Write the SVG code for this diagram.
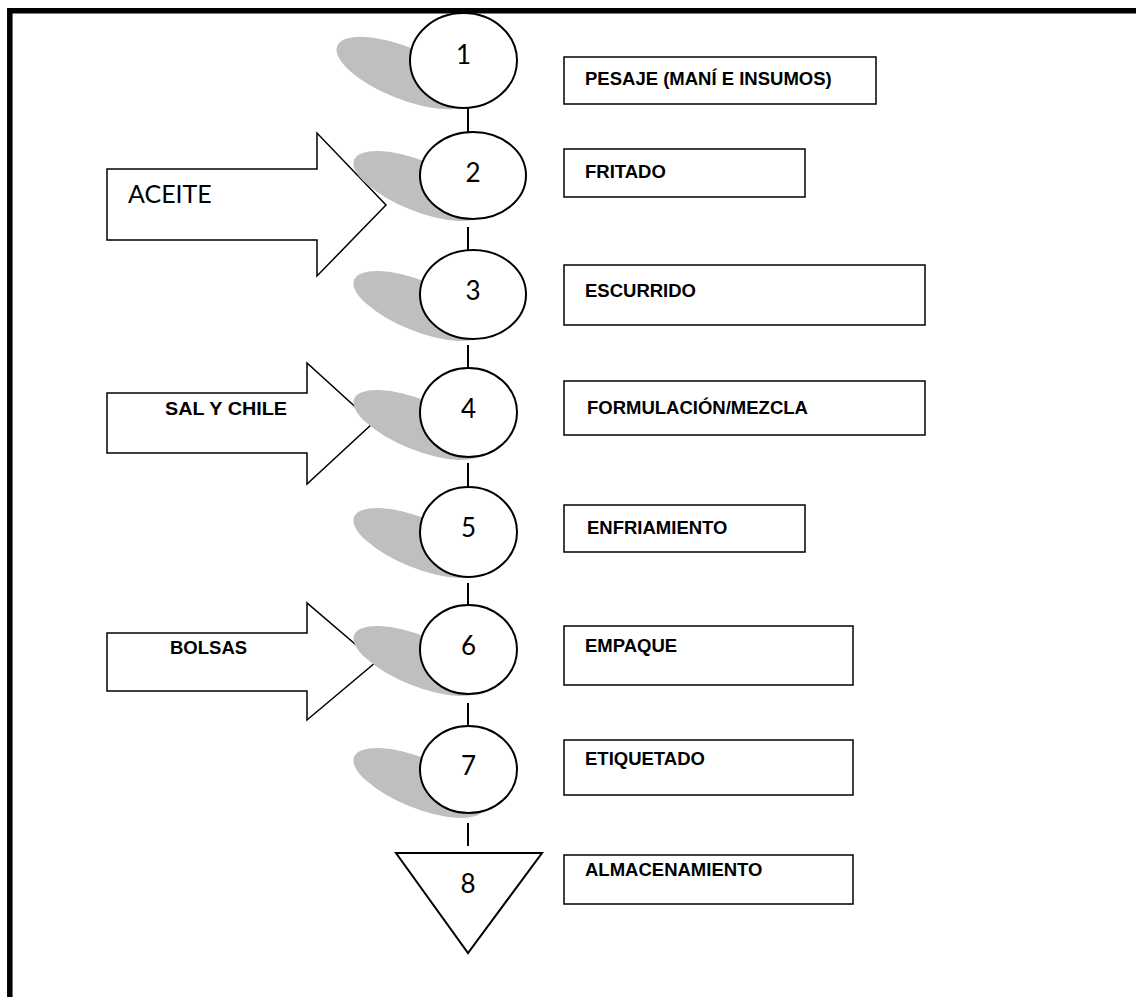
<svg xmlns="http://www.w3.org/2000/svg" width="1136" height="997" viewBox="0 0 1136 997">
<style>
.bg{fill:#fff}
.frame{fill:none;stroke:#000;stroke-width:5.5}
.sh{fill:#bfbfbf;stroke:none}
.op{fill:#fff;stroke:#000;stroke-width:2}
.num{font-family:Lato,"Open Sans",sans-serif;font-size:26px;fill:#000;text-anchor:middle}
.box{fill:#fff;stroke:#000;stroke-width:1.5}
.lbl{font-family:"Liberation Sans",Arial,sans-serif;font-weight:bold;font-size:18.5px;fill:#000}
.albl{font-family:"Liberation Sans",Arial,sans-serif;font-weight:bold;font-size:18.5px;fill:#000}
.arr{fill:#fff;stroke:#000;stroke-width:1.5}
.con{stroke:#000;stroke-width:2;fill:none}
</style>
<rect class="bg" x="0" y="0" width="1136" height="997"/>
<path class="frame" d="M9.8,997 V10.8 H1136"/>
<g id="connectors">
<line class="con" x1="468" y1="108" x2="468" y2="132"/>
<line class="con" x1="468" y1="227" x2="468" y2="250"/>
<line class="con" x1="468" y1="345" x2="468" y2="368"/>
<line class="con" x1="468" y1="463" x2="468" y2="487"/>
<line class="con" x1="468" y1="583" x2="468" y2="605"/>
<line class="con" x1="468" y1="703" x2="468" y2="726"/>
<line class="con" x1="468" y1="823" x2="468" y2="846"/>
</g>
<g id="in-aceite">
<polygon class="arr" points="107,169 317,169 317,133 386,205 317,276 317,240 107,240"/>
<text x="128" y="203" style="font-family:Lato,'Open Sans',sans-serif;font-size:25px">ACEITE</text>
</g>
<g id="in-sal">
<polygon class="arr" points="107,393 307,393 307,363 373,423 307,484 307,453 107,453"/>
<text class="albl" x="165" y="415" textLength="122" lengthAdjust="spacingAndGlyphs">SAL Y CHILE</text>
</g>
<g id="in-bolsas">
<polygon class="arr" points="107,633 307,633 307,603 376,662 307,720 307,691 107,691"/>
<text class="albl" x="170" y="654">BOLSAS</text>
</g>
<g id="n1">
<ellipse class="sh" cx="404" cy="73" rx="72" ry="26" transform="rotate(22 404 73)"/>
<ellipse class="op" cx="463.5" cy="60.5" rx="53.5" ry="47.5"/>
<text class="num" x="463.5" y="64">1</text>
</g>
<g id="n2">
<ellipse class="sh" cx="419" cy="186" rx="70" ry="25" transform="rotate(22 419 186)"/>
<ellipse class="op" cx="473" cy="175.5" rx="53" ry="43.5"/>
<text class="num" x="473" y="182">2</text>
</g>
<g id="n3">
<ellipse class="sh" cx="419" cy="306" rx="70" ry="25" transform="rotate(22 419 306)"/>
<ellipse class="op" cx="473" cy="294.5" rx="53" ry="44.5"/>
<text class="num" x="473" y="300">3</text>
</g>
<g id="n4">
<ellipse class="sh" cx="419" cy="425" rx="70" ry="25" transform="rotate(22 419 425)"/>
<ellipse class="op" cx="468.5" cy="412.5" rx="48.5" ry="44.5"/>
<text class="num" x="468.5" y="418">4</text>
</g>
<g id="n5">
<ellipse class="sh" cx="419" cy="543" rx="70" ry="25" transform="rotate(22 419 543)"/>
<ellipse class="op" cx="468.5" cy="532" rx="48.5" ry="45"/>
<text class="num" x="468.5" y="537">5</text>
</g>
<g id="n6">
<ellipse class="sh" cx="419" cy="661" rx="70" ry="25" transform="rotate(22 419 661)"/>
<ellipse class="op" cx="468.5" cy="649.5" rx="48.5" ry="44.5"/>
<text class="num" x="468.5" y="655">6</text>
</g>
<g id="n7">
<ellipse class="sh" cx="419" cy="783" rx="70" ry="25" transform="rotate(22 419 783)"/>
<ellipse class="op" cx="468.5" cy="769.5" rx="48.5" ry="43.5"/>
<text class="num" x="468.5" y="775">7</text>
</g>
<g id="n8">
<polygon class="op" points="396,853 542,853 468,953"/>
<text class="num" x="468" y="893">8</text>
</g>
<g id="b1"><rect class="box" x="564" y="57" width="312" height="47"/><text class="lbl" x="585" y="85">PESAJE (MANÍ E INSUMOS)</text></g>
<g id="b2"><rect class="box" x="564" y="149" width="241" height="48"/><text class="lbl" x="585" y="178">FRITADO</text></g>
<g id="b3"><rect class="box" x="564" y="265" width="361" height="60"/><text class="lbl" x="585" y="297">ESCURRIDO</text></g>
<g id="b4"><rect class="box" x="564" y="381" width="361" height="54"/><text class="lbl" x="587" y="414">FORMULACIÓN/MEZCLA</text></g>
<g id="b5"><rect class="box" x="564" y="505" width="241" height="47"/><text class="lbl" x="587" y="534">ENFRIAMIENTO</text></g>
<g id="b6"><rect class="box" x="564" y="626" width="289" height="59"/><text class="lbl" x="585" y="652">EMPAQUE</text></g>
<g id="b7"><rect class="box" x="564" y="740" width="289" height="55"/><text class="lbl" x="585" y="765">ETIQUETADO</text></g>
<g id="b8"><rect class="box" x="564" y="855" width="289" height="49"/><text class="lbl" x="585" y="876">ALMACENAMIENTO</text></g>
</svg>
